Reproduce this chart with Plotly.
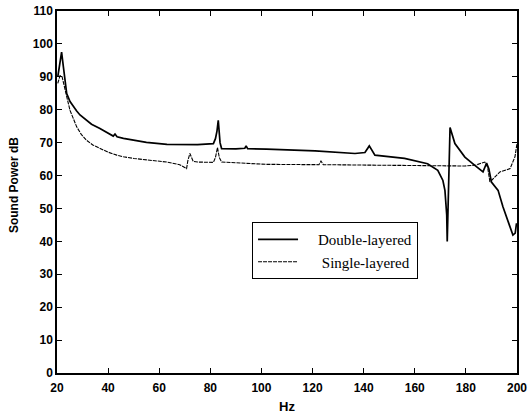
import plotly.graph_objects as go

# Double-layered (solid)
double_hz = [20.3, 21.0, 21.8, 22.5, 23.8, 25.1, 26.5, 27.7, 29.0, 31.6, 33.5, 36.8, 39.0, 42.0,
             42.7, 43.5, 46.0, 50.0, 55.0, 63.0, 75.0, 81.2, 82.0, 82.6, 83.1, 83.8, 84.4, 90.0,
             93.5, 94.0, 94.6, 102.0, 121.0, 136.6, 140.5, 142.2, 143.5, 144.4, 156.0, 165.0,
             169.0, 171.0, 171.8, 172.5, 172.7, 173.2, 173.8, 175.7, 179.6, 183.5, 186.7, 188.1,
             189.0, 190.0, 192.6, 194.5, 197.3, 198.4, 199.3, 199.8]
double_db = [90.0, 94.0, 97.5, 93.0, 84.9, 82.5, 80.8, 79.6, 78.4, 76.8, 75.6, 74.3, 73.3, 72.0,
             72.6, 71.8, 71.3, 70.7, 70.1, 69.5, 69.4, 69.7, 71.2, 73.5, 76.8, 70.0, 68.2, 68.1,
             68.3, 69.0, 68.2, 68.0, 67.5, 66.7, 67.0, 69.0, 67.2, 66.2, 65.2, 63.6,
             61.6, 58.5, 55.5, 48.0, 40.0, 55.0, 74.6, 69.7, 65.6, 63.1, 61.1, 63.8,
             62.0, 58.0, 55.5, 50.5, 44.4, 41.9, 42.5, 45.5]

# Single-layered (dashed)
single_hz = [20.3, 21.2, 22.0, 23.0, 23.8, 25.1, 26.4, 27.7, 29.5, 31.6, 34.0, 36.8, 40.0, 43.4,
             46.0, 50.0, 56.0, 62.9, 68.0, 70.7, 71.2, 72.0, 73.3, 75.0, 81.2, 82.0, 82.8, 83.5,
             84.4, 102.0, 122.5, 123.3, 124.2, 140.0, 164.0, 179.6, 184.0, 187.4, 188.5, 189.4,
             190.0, 193.3, 197.3, 199.2, 200.0]
single_db = [88.0, 90.4, 90.0, 87.0, 84.0, 79.8, 77.0, 74.8, 72.5, 70.7, 69.3, 68.2, 67.1, 66.2,
             65.7, 65.2, 64.6, 64.1, 63.3, 62.1, 64.5, 66.7, 64.3, 64.1, 64.0, 65.5, 68.5, 65.5,
             64.1, 63.4, 63.3, 64.4, 63.3, 63.2, 63.1, 62.9, 63.2, 64.1, 62.5, 58.1,
             58.5, 61.1, 62.1, 65.7, 69.7]

x_ticks = [20, 40, 60, 80, 100, 120, 140, 160, 180, 200]
y_ticks = [0, 10, 20, 30, 40, 50, 60, 70, 80, 90, 100, 110]

fig = go.Figure()
fig.add_trace(go.Scatter(x=double_hz, y=double_db, mode="lines",
                         name="\u00a0\u00a0\u00a0\u00a0Double-layered",
                         line=dict(color="black", width=1.7)))
fig.add_trace(go.Scatter(x=single_hz, y=single_db, mode="lines",
                         name="\u00a0\u00a0\u00a0\u00a0\u00a0Single-layered",
                         line=dict(color="black", width=1.1, dash="4px,1px")))

tick_font = dict(family="Liberation Sans", size=12, color="black", weight="bold")
fig.update_layout(
    width=530, height=414,
    margin=dict(l=57, r=13, t=11, b=41, autoexpand=False),
    paper_bgcolor="white", plot_bgcolor="white",
    showlegend=True,
    legend=dict(x=0.424, y=0.417, xanchor="left", yanchor="top",
                bordercolor="black", borderwidth=1, bgcolor="white",
                font=dict(family="Liberation Serif", size=15, color="black"),
                itemwidth=40, tracegroupgap=0),
    xaxis=dict(range=[20, 200], tickvals=x_ticks, ticktext=[str(v) for v in x_ticks],
               ticks="inside", ticklen=5, tickcolor="black", showline=True,
               linecolor="black", linewidth=1.5, mirror="ticks", showgrid=False,
               zeroline=False, automargin=False, tickfont=tick_font, ticklabelstandoff=3,
               title=dict(text="<b>Hz</b>", font=dict(family="Liberation Sans", size=13, color="black"),
                          standoff=8)),
    yaxis=dict(range=[0, 110], tickvals=y_ticks, ticktext=[str(v) for v in y_ticks],
               ticks="inside", ticklen=5, tickcolor="black", showline=True,
               linecolor="black", linewidth=1.5, mirror="ticks", showgrid=False,
               zeroline=False, automargin=False, tickfont=tick_font),
)
fig.add_annotation(text="<b>Sound Power dB</b>", textangle=-90, xref="paper", yref="paper",
                   x=-0.095, y=0.52, xanchor="center", yanchor="middle", showarrow=False,
                   font=dict(family="Liberation Sans", size=12, color="black"))
fig.write_html("out.html", config={"displayModeBar": False},
               post_script="document.body.style.margin='0px';")
